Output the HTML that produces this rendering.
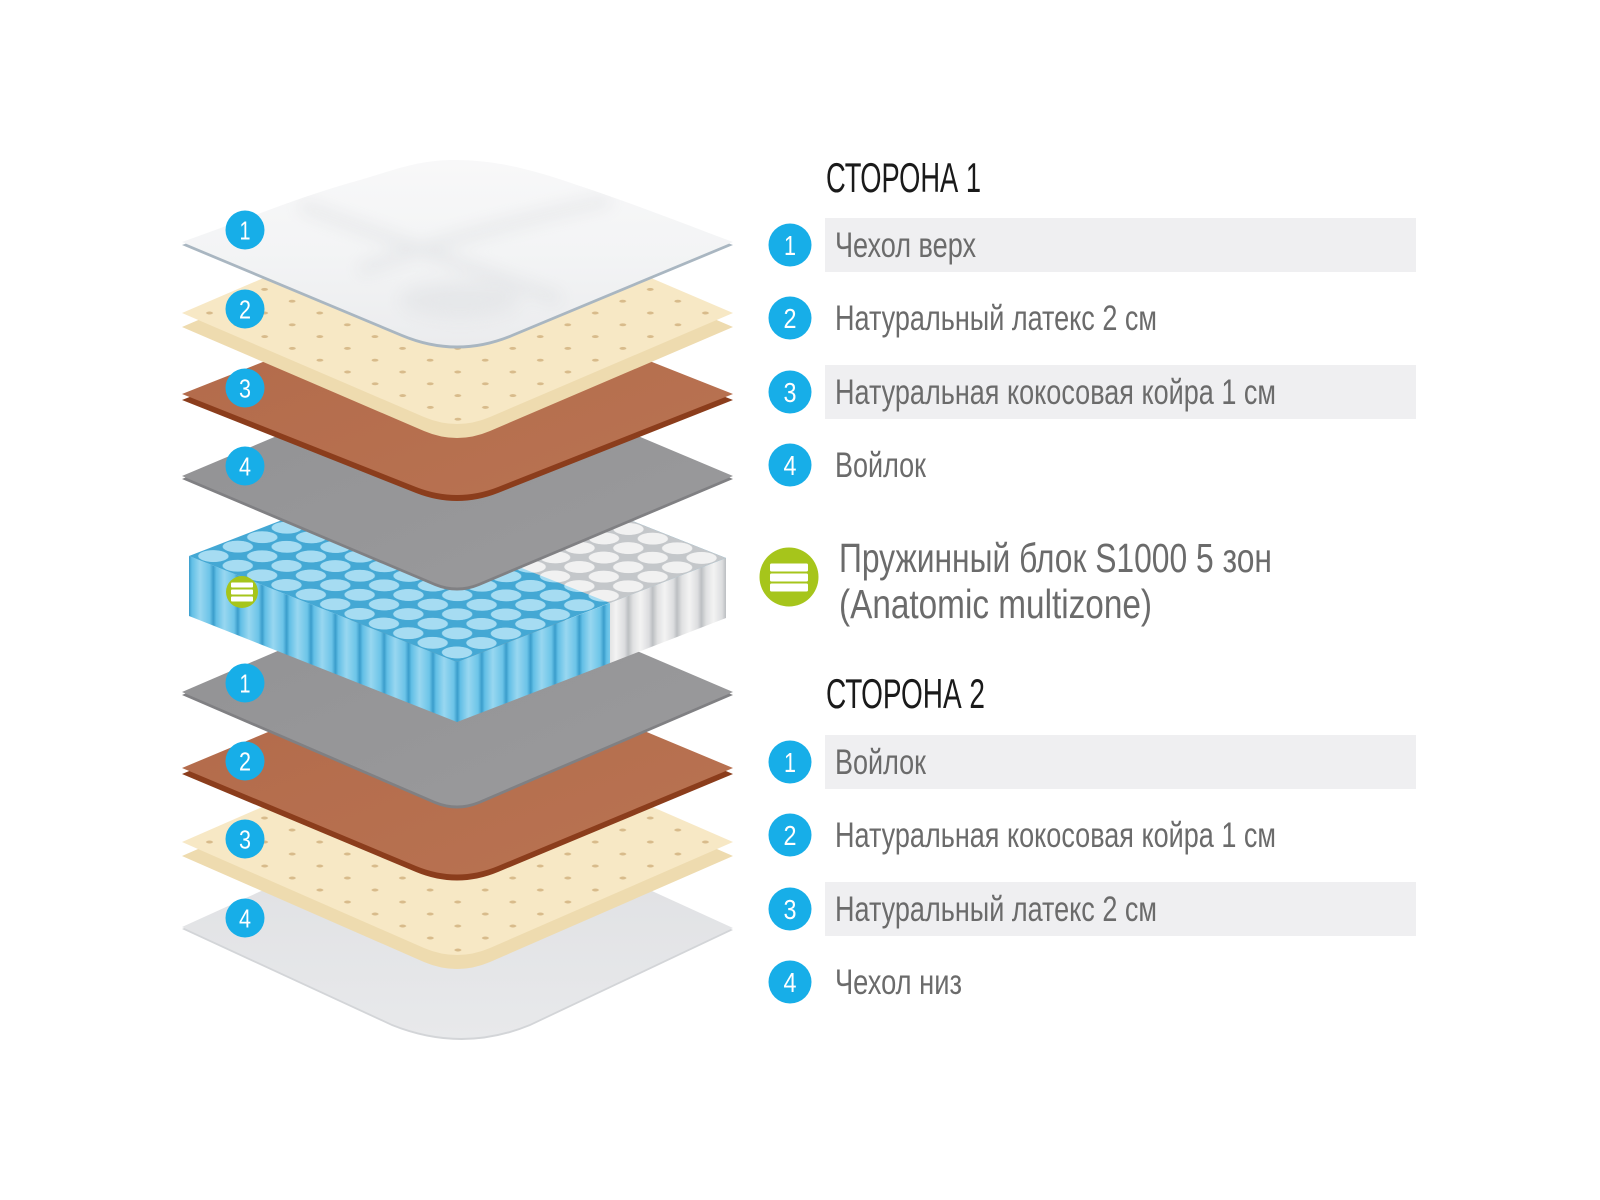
<!DOCTYPE html>
<html>
<head>
<meta charset="utf-8">
<style>
  html,body{margin:0;padding:0;background:#fff;}
  svg{display:block;}
  .h{font-family:"Liberation Sans Narrow","Liberation Sans","Noto Sans CJK SC",sans-serif;fill:#1a1a1a;}
  .t{font-family:"Liberation Sans Narrow","Liberation Sans","Noto Sans CJK SC",sans-serif;fill:#6b6b6b;}
  .d{font-family:"Liberation Sans Narrow","Liberation Sans",sans-serif;fill:#fff;text-anchor:middle;}
</style>
</head>
<body>
<svg width="1600" height="1200" viewBox="0 0 1600 1200" xmlns="http://www.w3.org/2000/svg">
  <defs>
    <linearGradient id="coverTop" x1="0" y1="0" x2="0" y2="1">
      <stop offset="0" stop-color="#f8f8f9"/>
      <stop offset="0.5" stop-color="#f3f4f5"/>
      <stop offset="1" stop-color="#ebecee"/>
    </linearGradient>
    <linearGradient id="coverBot" x1="0" y1="0" x2="0" y2="1">
      <stop offset="0" stop-color="#dddee1"/>
      <stop offset="1" stop-color="#e8e9eb"/>
    </linearGradient>
    <linearGradient id="coirTop" x1="0" y1="0" x2="1" y2="1">
      <stop offset="0" stop-color="#b26a4a"/>
      <stop offset="1" stop-color="#b97352"/>
    </linearGradient>
    <linearGradient id="feltTop" x1="0" y1="0" x2="1" y2="1">
      <stop offset="0" stop-color="#929294"/>
      <stop offset="1" stop-color="#9a9a9c"/>
    </linearGradient>
    <filter id="blur8" x="-20%" y="-20%" width="140%" height="140%">
      <feGaussianBlur stdDeviation="8"/>
    </filter>
    <clipPath id="coverClip">
      <path d="M182,242 C240,222 300,196 360,180 C400,168 420,160 455,160 C500,160 540,172 580,186 C640,206 690,226 733,242 L512,334 Q457,357 402,334 Z"/>
    </clipPath>
    <!-- latex dot patterns -->
    <pattern id="dotsA" patternUnits="userSpaceOnUse" width="30" height="30"
      patternTransform="matrix(0.92,0.3933,-0.9167,0.3933,457,195)">
      <rect width="30" height="30" fill="#f7e8c5"/>
      <circle cx="15" cy="15" r="2.6" fill="#d8bb8b"/>
    </pattern>
    <pattern id="dotsB" patternUnits="userSpaceOnUse" width="30" height="30"
      patternTransform="matrix(0.92,0.40,-0.9167,0.40,457,722)">
      <rect width="30" height="30" fill="#f7e8c5"/>
      <circle cx="15" cy="15" r="2.6" fill="#d8bb8b"/>
    </pattern>
    <!-- spring tops -->
    <pattern id="springTop" patternUnits="userSpaceOnUse" width="25.4545" height="25.4545"
      patternTransform="matrix(0.957,0.3786,-0.9607,0.3714,458,452)">
      <rect width="25.4545" height="25.4545" fill="#44a8d4"/>
      <circle cx="12.727" cy="12.727" r="11.2" fill="#a6dcf2"/>
    </pattern>
    <pattern id="springTopW" patternUnits="userSpaceOnUse" width="25.4545" height="25.4545"
      patternTransform="matrix(0.957,0.3786,-0.9607,0.3714,458,452)">
      <rect width="25.4545" height="25.4545" fill="#c4c7ca"/>
      <circle cx="12.727" cy="12.727" r="11.2" fill="#f1f1f1"/>
    </pattern>
    <linearGradient id="cylB" x1="0" y1="0" x2="1" y2="0">
      <stop offset="0" stop-color="#3a9dcb"/>
      <stop offset="0.12" stop-color="#62bfe6"/>
      <stop offset="0.45" stop-color="#98d7f0"/>
      <stop offset="0.85" stop-color="#6cc4e8"/>
      <stop offset="1" stop-color="#3a9dcb"/>
    </linearGradient>
    <linearGradient id="cylW" x1="0" y1="0" x2="1" y2="0">
      <stop offset="0" stop-color="#bcbfc2"/>
      <stop offset="0.2" stop-color="#e0e1e2"/>
      <stop offset="0.5" stop-color="#f3f3f3"/>
      <stop offset="0.85" stop-color="#dcdddf"/>
      <stop offset="1" stop-color="#bcbfc2"/>
    </linearGradient>
    <pattern id="stripeB" patternUnits="userSpaceOnUse" width="24.4" height="200" patternTransform="translate(189,0)">
      <rect width="24.4" height="200" fill="url(#cylB)"/>
    </pattern>
    <pattern id="stripeW" patternUnits="userSpaceOnUse" width="24.4" height="200" patternTransform="translate(189,0)">
      <rect width="24.4" height="200" fill="url(#cylW)"/>
    </pattern>
  </defs>

  <rect width="1600" height="1200" fill="#ffffff"/>

  <!-- ============ BOTTOM SIDE ============ -->
  <!-- B4 cover bottom -->
  <g>
    <path transform="translate(0,2)" d="M182,927 L457,802 L733,928 L530,1024 Q462,1052 392,1024 Z" fill="#d3d5d8"/>
    <path d="M182,927 L457,802 L733,928 L530,1024 Q462,1052 392,1024 Z" fill="url(#coverBot)"/>
  </g>
  <!-- B3 latex -->
  <g>
    <path transform="translate(0,14)" d="M182,842 L457,722 L733,842 L490,948 Q457,962 424,948 Z" fill="#eedbaf"/>
    <path d="M182,842 L457,722 L733,842 L490,948 Q457,962 424,948 Z" fill="url(#dotsB)"/>
  </g>
  <!-- B2 coir -->
  <g>
    <path transform="translate(0,6)" d="M182,768 L457,653 L733,768 L498,866 Q457,883 416,866 Z" fill="#8b3d1c"/>
    <path d="M182,768 L457,653 L733,768 L498,866 Q457,883 416,866 Z" fill="url(#coirTop)"/>
  </g>
  <!-- B1 felt -->
  <g>
    <path transform="translate(0,3)" d="M182,692 L457,574 L733,692 L479,801 Q457,810 435,801 Z" fill="#808083"/>
    <path d="M182,692 L457,574 L733,692 L479,801 Q457,810 435,801 Z" fill="url(#feltTop)"/>
  </g>

  <!-- ============ SPRING BLOCK ============ -->
  <g>
    <polygon points="189,556 457,662 457,722 189,616" fill="url(#stripeB)"/>
    <polygon points="457,662 610,603 610,663 457,722" fill="url(#stripeB)"/>
    <polygon points="610,603 726,558 726,618 610,663" fill="url(#stripeW)"/>
    <polygon points="189,556 458,452 726,558 457,662" fill="url(#springTop)"/>
    <polygon points="610,603 726,558 458,452 342,497" fill="url(#springTopW)"/>
  </g>

  <!-- ============ TOP SIDE ============ -->
  <!-- L4 felt -->
  <g>
    <path transform="translate(0,3)" d="M182,476 L457,360 L733,476 L479,583 Q457,592 435,583 Z" fill="#808083"/>
    <path d="M182,476 L457,360 L733,476 L479,583 Q457,592 435,583 Z" fill="url(#feltTop)"/>
  </g>
  <!-- L3 coir -->
  <g>
    <path transform="translate(0,6)" d="M182,394 L457,285 L733,394 L498,487 Q457,503 416,487 Z" fill="#8b3d1c"/>
    <path d="M182,394 L457,285 L733,394 L498,487 Q457,503 416,487 Z" fill="url(#coirTop)"/>
  </g>
  <!-- L2 latex -->
  <g>
    <path transform="translate(0,14)" d="M182,313 L457,195 L733,313 L490,417 Q457,431 424,417 Z" fill="#eedbaf"/>
    <path d="M182,313 L457,195 L733,313 L490,417 Q457,431 424,417 Z" fill="url(#dotsA)"/>
  </g>
  <!-- L1 cover top -->
  <g>
    <path transform="translate(0,3)" d="M182,242 C240,222 300,196 360,180 C400,168 420,160 455,160 C500,160 540,172 580,186 C640,206 690,226 733,242 L512,334 Q457,357 402,334 Z" fill="#a9b6c1"/>
    <path d="M182,242 C240,222 300,196 360,180 C400,168 420,160 455,160 C500,160 540,172 580,186 C640,206 690,226 733,242 L512,334 Q457,357 402,334 Z" fill="url(#coverTop)"/>
    <g clip-path="url(#coverClip)" filter="url(#blur8)" opacity="0.45">
      <path d="M300,205 Q420,250 560,300" stroke="#d6d8db" stroke-width="10" fill="none"/>
      <path d="M360,270 Q470,230 610,200" stroke="#d6d8db" stroke-width="10" fill="none"/>
      <ellipse cx="460" cy="300" rx="60" ry="18" fill="#dcdee1"/>
    </g>
  </g>

  <!-- ============ LEFT BADGES ============ -->
  <g>
    <circle cx="245" cy="230" r="19.5" fill="#17aee8"/>
    <text class="d" x="245" y="239.5" font-size="26" textLength="11" lengthAdjust="spacingAndGlyphs">1</text>
    <circle cx="245" cy="309" r="19.5" fill="#17aee8"/>
    <text class="d" x="245" y="318.5" font-size="26" textLength="12" lengthAdjust="spacingAndGlyphs">2</text>
    <circle cx="245" cy="388" r="19.5" fill="#17aee8"/>
    <text class="d" x="245" y="397.5" font-size="26" textLength="12" lengthAdjust="spacingAndGlyphs">3</text>
    <circle cx="245" cy="466" r="19.5" fill="#17aee8"/>
    <text class="d" x="245" y="475.5" font-size="26" textLength="12" lengthAdjust="spacingAndGlyphs">4</text>

    <circle cx="242" cy="592" r="16" fill="#a6c51b"/>
    <rect x="231" y="582.5" width="22" height="5" rx="1" fill="#fff"/>
    <rect x="231" y="589.5" width="22" height="5" rx="1" fill="#fff"/>
    <rect x="231" y="596.5" width="22" height="5" rx="1" fill="#fff"/>

    <circle cx="245" cy="683" r="19.5" fill="#17aee8"/>
    <text class="d" x="245" y="692.5" font-size="26" textLength="11" lengthAdjust="spacingAndGlyphs">1</text>
    <circle cx="245" cy="761" r="19.5" fill="#17aee8"/>
    <text class="d" x="245" y="770.5" font-size="26" textLength="12" lengthAdjust="spacingAndGlyphs">2</text>
    <circle cx="245" cy="839" r="19.5" fill="#17aee8"/>
    <text class="d" x="245" y="848.5" font-size="26" textLength="12" lengthAdjust="spacingAndGlyphs">3</text>
    <circle cx="245" cy="918" r="19.5" fill="#17aee8"/>
    <text class="d" x="245" y="927.5" font-size="26" textLength="12" lengthAdjust="spacingAndGlyphs">4</text>
  </g>

  <!-- ============ RIGHT LEGEND ============ -->
  <rect x="825" y="218" width="591" height="54" fill="#efeff1"/>
  <rect x="825" y="365" width="591" height="54" fill="#efeff1"/>
  <rect x="825" y="735" width="591" height="54" fill="#efeff1"/>
  <rect x="825" y="882" width="591" height="54" fill="#efeff1"/>

  <text class="h" x="826" y="192" font-size="42" textLength="155" lengthAdjust="spacingAndGlyphs">СТОРОНА 1</text>

  <circle cx="790" cy="245" r="21.5" fill="#17aee8"/>
  <text class="d" x="790" y="255" font-size="28" textLength="12" lengthAdjust="spacingAndGlyphs">1</text>
  <text class="t" x="835" y="257" font-size="35" textLength="141" lengthAdjust="spacingAndGlyphs">Чехол верх</text>

  <circle cx="790" cy="318" r="21.5" fill="#17aee8"/>
  <text class="d" x="790" y="328" font-size="28" textLength="13" lengthAdjust="spacingAndGlyphs">2</text>
  <text class="t" x="835" y="330" font-size="35" textLength="322" lengthAdjust="spacingAndGlyphs">Натуральный латекс 2 см</text>

  <circle cx="790" cy="392" r="21.5" fill="#17aee8"/>
  <text class="d" x="790" y="402" font-size="28" textLength="13" lengthAdjust="spacingAndGlyphs">3</text>
  <text class="t" x="835" y="404" font-size="35" textLength="441" lengthAdjust="spacingAndGlyphs">Натуральная кокосовая койра 1 см</text>

  <circle cx="790" cy="465" r="21.5" fill="#17aee8"/>
  <text class="d" x="790" y="475" font-size="28" textLength="13" lengthAdjust="spacingAndGlyphs">4</text>
  <text class="t" x="835" y="477" font-size="35" textLength="91" lengthAdjust="spacingAndGlyphs">Войлок</text>

  <circle cx="789" cy="577" r="29.5" fill="#a6c51b"/>
  <rect x="770" y="563.5" width="38" height="8" rx="1.5" fill="#fff"/>
  <rect x="770" y="573.5" width="38" height="8" rx="1.5" fill="#fff"/>
  <rect x="770" y="583.5" width="38" height="8" rx="1.5" fill="#fff"/>
  <text class="t" x="839" y="572" font-size="41" textLength="433" lengthAdjust="spacingAndGlyphs">Пружинный блок S1000 5 зон</text>
  <text class="t" x="839" y="618" font-size="41" textLength="313" lengthAdjust="spacingAndGlyphs">(Anatomic multizone)</text>

  <text class="h" x="826" y="708" font-size="42" textLength="159" lengthAdjust="spacingAndGlyphs">СТОРОНА 2</text>

  <circle cx="790" cy="762" r="21.5" fill="#17aee8"/>
  <text class="d" x="790" y="772" font-size="28" textLength="12" lengthAdjust="spacingAndGlyphs">1</text>
  <text class="t" x="835" y="774" font-size="35" textLength="91" lengthAdjust="spacingAndGlyphs">Войлок</text>

  <circle cx="790" cy="835" r="21.5" fill="#17aee8"/>
  <text class="d" x="790" y="845" font-size="28" textLength="13" lengthAdjust="spacingAndGlyphs">2</text>
  <text class="t" x="835" y="847" font-size="35" textLength="441" lengthAdjust="spacingAndGlyphs">Натуральная кокосовая койра 1 см</text>

  <circle cx="790" cy="909" r="21.5" fill="#17aee8"/>
  <text class="d" x="790" y="919" font-size="28" textLength="13" lengthAdjust="spacingAndGlyphs">3</text>
  <text class="t" x="835" y="921" font-size="35" textLength="322" lengthAdjust="spacingAndGlyphs">Натуральный латекс 2 см</text>

  <circle cx="790" cy="982" r="21.5" fill="#17aee8"/>
  <text class="d" x="790" y="992" font-size="28" textLength="13" lengthAdjust="spacingAndGlyphs">4</text>
  <text class="t" x="835" y="994" font-size="35" textLength="127" lengthAdjust="spacingAndGlyphs">Чехол низ</text>
</svg>
</body>
</html>
